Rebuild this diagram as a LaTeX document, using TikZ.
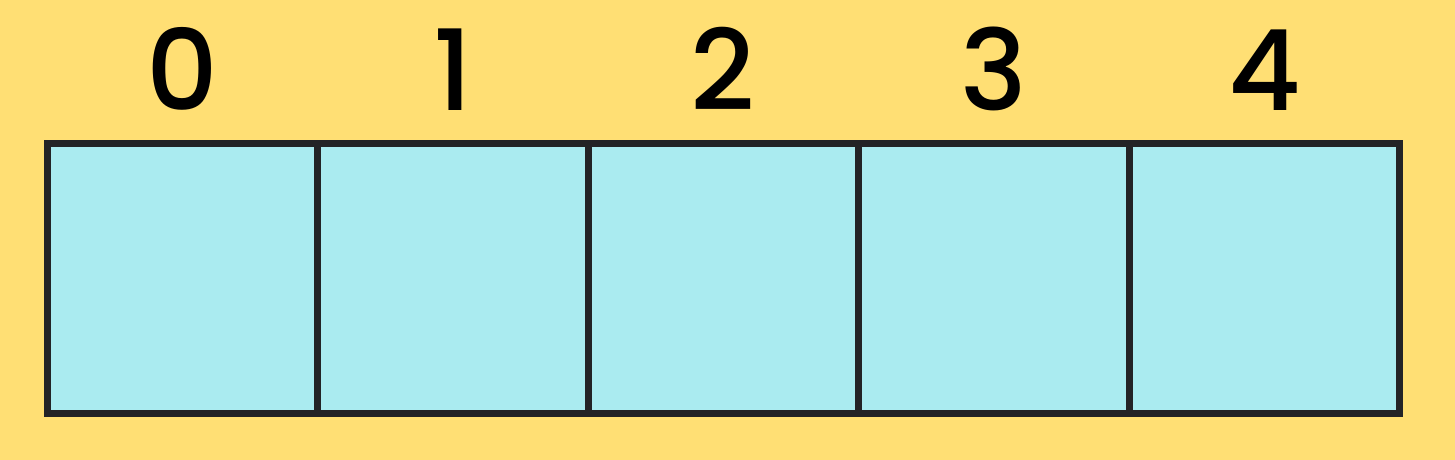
\documentclass[tikz,border=0pt]{standalone}
\usepackage{fontspec}
\setmainfont{Poppins}[UprightFont={* Medium}]
\definecolor{bgyellow}{RGB}{255,223,116}
\definecolor{cellcyan}{RGB}{170,235,240}
\definecolor{edge}{RGB}{35,35,38}
\begin{document}
\begin{tikzpicture}[x=1pt,y=-1pt,
  cell/.style={draw=edge,fill=cellcyan,line width=7pt,minimum width=270.5pt,minimum height=270pt,inner sep=0pt,outer sep=0pt,anchor=north west},
  idx/.style={anchor=base,inner sep=0pt,font=\fontsize{112}{114}\selectfont,text=black}]
\fill[bgyellow] (0,0) rectangle (1455,460);
\useasboundingbox (0,0) rectangle (1455,460);
\foreach \i in {0,...,4}{
  \node[cell] (c\i) at ({47+270.5*\i},143) {};
}
\foreach \i in {0,...,4}{
  \node[idx] (n\i) at ([yshift=33pt]c\i.north) {\i};
}
\end{tikzpicture}
\end{document}
